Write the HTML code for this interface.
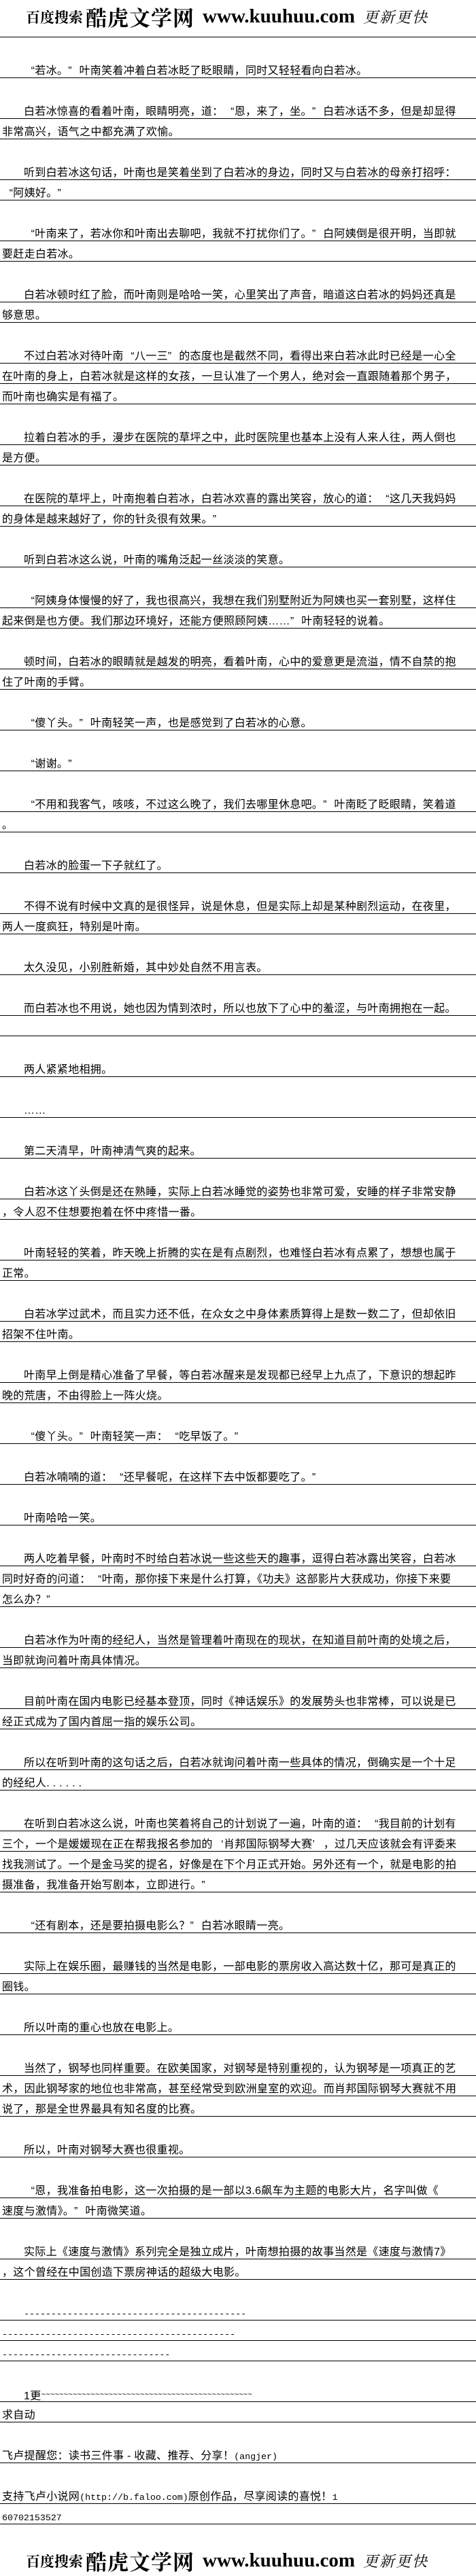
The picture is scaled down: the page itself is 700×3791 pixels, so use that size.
<!DOCTYPE html>
<html><head><meta charset="utf-8">
<style>
html,body{margin:0;padding:0;background:#fff;}
body{width:700px;height:3790px;position:relative;overflow:hidden;color:#000;}
.hd{position:absolute;left:38px;white-space:nowrap;font-family:"Liberation Serif","Noto Serif CJK SC",serif;font-weight:bold;}
.hd span{display:inline-block;vertical-align:middle;}
.c1{font-size:21px;letter-spacing:0px;font-family:"Noto Serif CJK SC",serif;}
.c2{font-size:31px;letter-spacing:1px;font-family:"Noto Serif CJK SC",serif;margin-left:4px;}
.c3{font-size:29px;margin-left:12px;}
.c4{font-size:22px;letter-spacing:2px;font-family:"Noto Serif CJK SC",serif;margin-left:12px;font-weight:normal;font-style:italic;}
#main{position:absolute;left:0;top:25px;width:700px;}
.r{height:30px;border-bottom:1px solid #000;box-sizing:border-box;padding-left:3px;padding-top:12px;white-space:nowrap;font-family:"Liberation Sans","Noto Sans CJK SC",sans-serif;font-size:16px;line-height:16px;letter-spacing:.3px;overflow:hidden;}
.i{padding-left:35px;}
.b{height:30px;}
.m{font-family:"Liberation Mono",monospace;font-size:13.3px;letter-spacing:0;}
o,c{display:inline-block;width:16.3px;}
o{text-align:right;}
c{text-align:left;}
</style></head><body>
<div class="hd" style="top:2px;"><span class="c1">百度搜索</span><span class="c2">酷虎文学网</span><span class="c3">www.kuuhuu.com</span><span class="c4">更新更快</span></div>
<div id="main">
<div class="r" style="padding:0"></div>
<div class="b"></div>
<div class="r i"><o>“</o>若冰。<c>”</c>叶南笑着冲着白若冰眨了眨眼睛，同时又轻轻看向白若冰。</div>
<div class="b"></div>
<div class="r i">白若冰惊喜的看着叶南，眼睛明亮，道：<o>“</o>恩，来了，坐。<c>”</c>白若冰话不多，但是却显得</div>
<div class="r">非常高兴，语气之中都充满了欢愉。</div>
<div class="b"></div>
<div class="r i">听到白若冰这句话，叶南也是笑着坐到了白若冰的身边，同时又与白若冰的母亲打招呼：</div>
<div class="r"><o>“</o>阿姨好。<c>”</c></div>
<div class="b"></div>
<div class="r i"><o>“</o>叶南来了，若冰你和叶南出去聊吧，我就不打扰你们了。<c>”</c>白阿姨倒是很开明，当即就</div>
<div class="r">要赶走白若冰。</div>
<div class="b"></div>
<div class="r i">白若冰顿时红了脸，而叶南则是哈哈一笑，心里笑出了声音，暗道这白若冰的妈妈还真是</div>
<div class="r">够意思。</div>
<div class="b"></div>
<div class="r i">不过白若冰对待叶南<o>“</o>八一三<c>”</c>的态度也是截然不同，看得出来白若冰此时已经是一心全</div>
<div class="r">在叶南的身上，白若冰就是这样的女孩，一旦认准了一个男人，绝对会一直跟随着那个男子，</div>
<div class="r">而叶南也确实是有福了。</div>
<div class="b"></div>
<div class="r i">拉着白若冰的手，漫步在医院的草坪之中，此时医院里也基本上没有人来人往，两人倒也</div>
<div class="r">是方便。</div>
<div class="b"></div>
<div class="r i">在医院的草坪上，叶南抱着白若冰，白若冰欢喜的露出笑容，放心的道：<o>“</o>这几天我妈妈</div>
<div class="r">的身体是越来越好了，你的针灸很有效果。<c>”</c></div>
<div class="b"></div>
<div class="r i">听到白若冰这么说，叶南的嘴角泛起一丝淡淡的笑意。</div>
<div class="b"></div>
<div class="r i"><o>“</o>阿姨身体慢慢的好了，我也很高兴，我想在我们别墅附近为阿姨也买一套别墅，这样住</div>
<div class="r">起来倒是也方便。我们那边环境好，还能方便照顾阿姨……<c>”</c>叶南轻轻的说着。</div>
<div class="b"></div>
<div class="r i">顿时间，白若冰的眼睛就是越发的明亮，看着叶南，心中的爱意更是流溢，情不自禁的抱</div>
<div class="r">住了叶南的手臂。</div>
<div class="b"></div>
<div class="r i"><o>“</o>傻丫头。<c>”</c>叶南轻笑一声，也是感觉到了白若冰的心意。</div>
<div class="b"></div>
<div class="r i"><o>“</o>谢谢。<c>”</c></div>
<div class="b"></div>
<div class="r i"><o>“</o>不用和我客气，咳咳，不过这么晚了，我们去哪里休息吧。<c>”</c>叶南眨了眨眼睛，笑着道</div>
<div class="r">。</div>
<div class="b"></div>
<div class="r i">白若冰的脸蛋一下子就红了。</div>
<div class="b"></div>
<div class="r i">不得不说有时候中文真的是很怪异，说是休息，但是实际上却是某种剧烈运动，在夜里，</div>
<div class="r">两人一度疯狂，特别是叶南。</div>
<div class="b"></div>
<div class="r i">太久没见，小别胜新婚，其中妙处自然不用言表。</div>
<div class="b"></div>
<div class="r i">而白若冰也不用说，她也因为情到浓时，所以也放下了心中的羞涩，与叶南拥抱在一起。</div>
<div class="r"></div>
<div class="b"></div>
<div class="r i">两人紧紧地相拥。</div>
<div class="b"></div>
<div class="r i">……</div>
<div class="b"></div>
<div class="r i">第二天清早，叶南神清气爽的起来。</div>
<div class="b"></div>
<div class="r i">白若冰这丫头倒是还在熟睡，实际上白若冰睡觉的姿势也非常可爱，安睡的样子非常安静</div>
<div class="r">，令人忍不住想要抱着在怀中疼惜一番。</div>
<div class="b"></div>
<div class="r i">叶南轻轻的笑着，昨天晚上折腾的实在是有点剧烈，也难怪白若冰有点累了，想想也属于</div>
<div class="r">正常。</div>
<div class="b"></div>
<div class="r i">白若冰学过武术，而且实力还不低，在众女之中身体素质算得上是数一数二了，但却依旧</div>
<div class="r">招架不住叶南。</div>
<div class="b"></div>
<div class="r i">叶南早上倒是精心准备了早餐，等白若冰醒来是发现都已经早上九点了，下意识的想起昨</div>
<div class="r">晚的荒唐，不由得脸上一阵火烧。</div>
<div class="b"></div>
<div class="r i"><o>“</o>傻丫头。<c>”</c>叶南轻笑一声：<o>“</o>吃早饭了。<c>”</c></div>
<div class="b"></div>
<div class="r i">白若冰喃喃的道：<o>“</o>还早餐呢，在这样下去中饭都要吃了。<c>”</c></div>
<div class="b"></div>
<div class="r i">叶南哈哈一笑。</div>
<div class="b"></div>
<div class="r i">两人吃着早餐，叶南时不时给白若冰说一些这些天的趣事，逗得白若冰露出笑容，白若冰</div>
<div class="r">同时好奇的问道：<o>“</o>叶南，那你接下来是什么打算，《功夫》这部影片大获成功，你接下来要</div>
<div class="r">怎么办？<c>”</c></div>
<div class="b"></div>
<div class="r i">白若冰作为叶南的经纪人，当然是管理着叶南现在的现状，在知道目前叶南的处境之后，</div>
<div class="r">当即就询问着叶南具体情况。</div>
<div class="b"></div>
<div class="r i">目前叶南在国内电影已经基本登顶，同时《神话娱乐》的发展势头也非常棒，可以说是已</div>
<div class="r">经正式成为了国内首屈一指的娱乐公司。</div>
<div class="b"></div>
<div class="r i">所以在听到叶南的这句话之后，白若冰就询问着叶南一些具体的情况，倒确实是一个十足</div>
<div class="r">的经纪人. . . . . .</div>
<div class="b"></div>
<div class="r i">在听到白若冰这么说，叶南也笑着将自己的计划说了一遍，叶南的道：<o>“</o>我目前的计划有</div>
<div class="r">三个，一个是媛媛现在正在帮我报名参加的<o>‘</o>肖邦国际钢琴大赛<c>’</c>，过几天应该就会有评委来</div>
<div class="r">找我测试了。一个是金马奖的提名，好像是在下个月正式开始。另外还有一个，就是电影的拍</div>
<div class="r">摄准备，我准备开始写剧本，立即进行。<c>”</c></div>
<div class="b"></div>
<div class="r i"><o>“</o>还有剧本，还是要拍摄电影么？<c>”</c>白若冰眼睛一亮。</div>
<div class="b"></div>
<div class="r i">实际上在娱乐圈，最赚钱的当然是电影，一部电影的票房收入高达数十亿，那可是真正的</div>
<div class="r">圈钱。</div>
<div class="b"></div>
<div class="r i">所以叶南的重心也放在电影上。</div>
<div class="b"></div>
<div class="r i">当然了，钢琴也同样重要。在欧美国家，对钢琴是特别重视的，认为钢琴是一项真正的艺</div>
<div class="r">术，因此钢琴家的地位也非常高，甚至经常受到欧洲皇室的欢迎。而肖邦国际钢琴大赛就不用</div>
<div class="r">说了，那是全世界最具有知名度的比赛。</div>
<div class="b"></div>
<div class="r i">所以，叶南对钢琴大赛也很重视。</div>
<div class="b"></div>
<div class="r i"><o>“</o>恩，我准备拍电影，这一次拍摄的是一部以3.6飙车为主题的电影大片，名字叫做《</div>
<div class="r">速度与激情》。<c>”</c>叶南微笑道。</div>
<div class="b"></div>
<div class="r i">实际上《速度与激情》系列完全是独立成片，叶南想拍摄的故事当然是《速度与激情7》</div>
<div class="r">，这个曾经在中国创造下票房神话的超级大电影。</div>
<div class="b"></div>
<div class="r i"><span class="m">-----------------------------------------</span></div>
<div class="r"><span class="m">-------------------------------------------</span></div>
<div class="r"><span class="m">-------------------------------</span></div>
<div class="b"></div>
<div class="r i">1更<span class="m" style="font-size:11px;vertical-align:4px;">~~~~~~~~~~~~~~~~~~~~~~~~~~~~~~~~~~~~~~~~~~~~~~~</span></div>
<div class="r">求自动</div>
<div class="b"></div>
<div class="r">飞卢提醒您：读书三件事 - 收藏、推荐、分享！<span class="m">(angjer)</span></div>
<div class="b"></div>
<div class="r">支持飞卢小说网<span class="m">(http://b.faloo.com)</span>原创作品，尽享阅读的喜悦！<span class="m">1</span></div>
<div class="r"><span class="m">60702153527</span></div>
</div>
<div class="hd" style="top:3746px;"><span class="c1">百度搜索</span><span class="c2">酷虎文学网</span><span class="c3">www.kuuhuu.com</span><span class="c4">更新更快</span></div>
</body></html>
